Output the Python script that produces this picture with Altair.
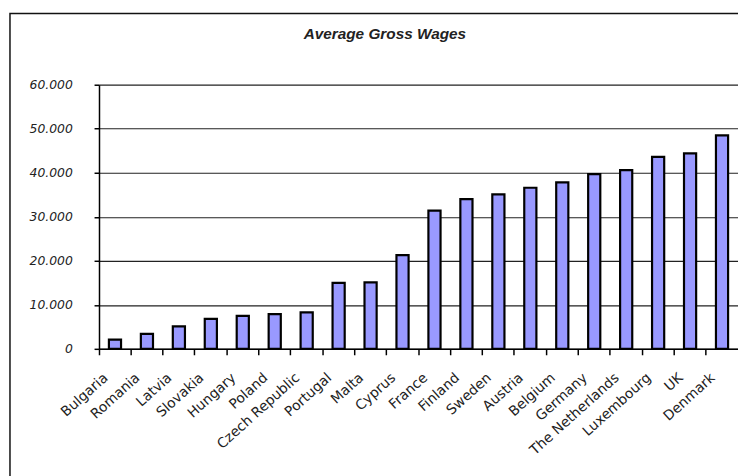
import altair as alt
import pandas as pd

countries = ["Bulgaria", "Romania", "Latvia", "Slovakia", "Hungary", "Poland",
             "Czech Republic", "Portugal", "Malta", "Cyprus", "France", "Finland",
             "Sweden", "Austria", "Belgium", "Germany", "The Netherlands",
             "Luxembourg", "UK", "Denmark"]
wages = [2100, 3400, 5100, 6800, 7500, 7900, 8300, 15000, 15100, 21300,
         31400, 34000, 35100, 36600, 37800, 39700, 40600, 43600, 44400, 48500]
y_ticks = [0, 10000, 20000, 30000, 40000, 50000, 60000]
title_text = ["Average Gross Wages"]

df = pd.DataFrame({"country": countries, "wage": wages})
one = pd.DataFrame({"t": title_text})

W, H = 646, 267

frame = alt.Chart(one).mark_rect(fill="#ffffff", fillOpacity=0, stroke="#111111",
                                 strokeWidth=1.5).encode(
    x=alt.value(-90), x2=alt.value(W + 60), y=alt.value(-72), y2=alt.value(H + 200))

bars = alt.Chart(df).mark_bar(color="#9999FF", stroke="#000000", strokeWidth=2.2,
                              width=alt.RelativeBandSize(0.38)).encode(
    x=alt.X("country:N", sort=countries,
            scale=alt.Scale(paddingInner=0, paddingOuter=0),
            axis=alt.Axis(title=None, labelAngle=-42, bandPosition=0, labelOffset=-9,
                          labelAlign="right", labelBaseline="middle",
                          tickSize=6, labelPadding=21, domainColor="#000000",
                          domainWidth=1.5, tickColor="#000000", tickWidth=1.5,
                          labelFont="DejaVu Sans", labelFontSize=14, labelColor="#222222",
                          grid=False, labelOverlap=False, labelBound=False)),
    y=alt.Y("wage:Q", scale=alt.Scale(domain=[0, 60000]),
            axis=alt.Axis(title=None, values=y_ticks,
                          labelExpr="replace(format(datum.value, ','), ',', '.')",
                          grid=True, gridColor="#222222", gridWidth=1.2,
                          tickSize=5, tickColor="#000000", tickWidth=1.5,
                          domainColor="#000000", domainWidth=1.5,
                          labelPadding=22, labelFont="DejaVu Sans", labelFontSize=12.5,
                          labelFontStyle="italic", labelColor="#222222")))

title = alt.Chart(one).mark_text(font="Liberation Sans", fontSize=15.5, fontStyle="italic",
                                 fontWeight="bold", color="#222222", align="center",
                                 baseline="middle").encode(
    x=alt.value(289), y=alt.value(-51), text="t:N")

chart = alt.layer(frame, bars, title).properties(
    width=W, height=H,
    autosize=alt.AutoSizeParams(type="none"),
    padding={"left": 92, "top": 75, "right": 0, "bottom": 126},
    background="#ffffff",
).configure_view(strokeWidth=0)

chart.save("out.html", embed_options={"renderer": "svg", "actions": False})
